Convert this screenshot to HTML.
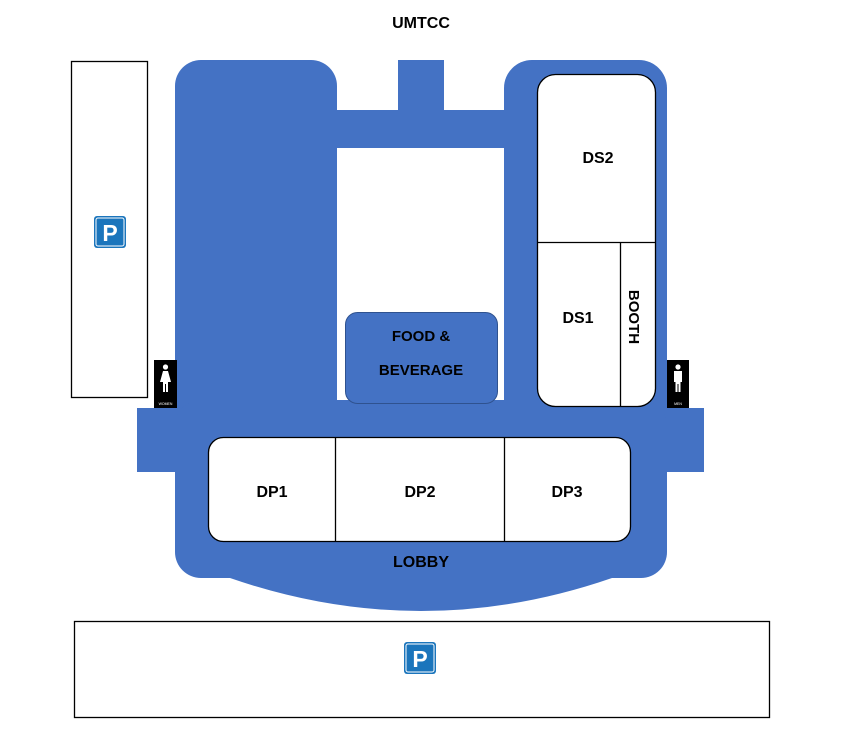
<!DOCTYPE html>
<html><head><meta charset="utf-8"><style>
html,body{margin:0;padding:0;background:#fff;}
svg{display:block;}
text{font-family:"Liberation Sans",sans-serif;font-weight:bold;fill:#000;}
</style></head><body>
<svg width="850" height="752" viewBox="0 0 850 752" xmlns="http://www.w3.org/2000/svg">
<text x="421" y="28" font-size="16" text-anchor="middle">UMTCC</text>
<rect x="71.5" y="61.5" width="76" height="336" fill="#fff" stroke="#000" stroke-width="1.3"/>
<rect x="74.5" y="621.5" width="695" height="96" fill="#fff" stroke="#000" stroke-width="1.3"/>
<g fill="#1b75bc">
<rect x="94" y="216" width="32" height="32" rx="3"/>
<rect x="404" y="642" width="32" height="32" rx="3"/>
</g>
<g fill="none" stroke="#fff" stroke-width="1"><rect x="96" y="218" width="28" height="28" rx="2"/><rect x="406" y="644" width="28" height="28" rx="2"/></g>
<text x="110" y="241" font-size="23" text-anchor="middle" style="fill:#fff">P</text>
<text x="420" y="667" font-size="23" text-anchor="middle" style="fill:#fff">P</text>
<g fill="#4472c4">
<rect x="175" y="60" width="162" height="440" rx="26"/>
<rect x="504" y="60" width="163" height="440" rx="28"/>
<rect x="330" y="110" width="180" height="38"/>
<rect x="398" y="60" width="46" height="60"/>
<rect x="137" y="408" width="567" height="64"/>
<rect x="175" y="400" width="492" height="178" rx="26"/>
<path d="M230 570 L612 570 L612 578 Q421 644 230 578 Z"/>
</g>
<rect x="345.5" y="312.5" width="152" height="91" rx="12" fill="#4472c4" stroke="#2f528f" stroke-width="1"/>
<text x="421" y="341" font-size="15" text-anchor="middle">FOOD &amp;</text>
<text x="421" y="375" font-size="15" text-anchor="middle">BEVERAGE</text>
<rect x="537.5" y="74.5" width="118" height="332" rx="18" fill="#fff" stroke="#000" stroke-width="1.3"/>
<line x1="538" y1="242.5" x2="655" y2="242.5" stroke="#000" stroke-width="1.3"/>
<line x1="620.5" y1="242" x2="620.5" y2="406" stroke="#000" stroke-width="1.3"/>
<text x="598" y="163" font-size="16" text-anchor="middle">DS2</text>
<text x="578" y="323" font-size="16" text-anchor="middle">DS1</text>
<text font-size="15" text-anchor="middle" transform="translate(629,317) rotate(90)">BOOTH</text>
<rect x="208.5" y="437.5" width="422" height="104" rx="15" fill="#fff" stroke="#000" stroke-width="1.3"/>
<line x1="335.5" y1="438" x2="335.5" y2="541" stroke="#000" stroke-width="1.3"/>
<line x1="504.5" y1="438" x2="504.5" y2="541" stroke="#000" stroke-width="1.3"/>
<text x="272" y="497" font-size="16" text-anchor="middle">DP1</text>
<text x="420" y="497" font-size="16" text-anchor="middle">DP2</text>
<text x="567" y="497" font-size="16" text-anchor="middle">DP3</text>
<text x="421" y="567" font-size="16" text-anchor="middle">LOBBY</text>
<g>
<rect x="154" y="360" width="23" height="48" fill="#000"/>
<circle cx="165.5" cy="367" r="2.6" fill="#fff"/>
<path d="M163 371 h5 l3 11 h-3 v10 h-2 v-8 h-1 v8 h-2 v-10 h-3 z" fill="#fff"/>
<text x="165.5" y="405" font-size="3.5" text-anchor="middle" style="fill:#fff;font-weight:normal">WOMEN</text>
<rect x="667" y="360" width="22" height="48" fill="#000"/>
<circle cx="678" cy="367" r="2.6" fill="#fff"/>
<path d="M674 371 h8 v11 h-1.5 v10 h-2 v-8 h-1 v8 h-2 v-10 h-1.5 z" fill="#fff"/>
<text x="678" y="405" font-size="3.5" text-anchor="middle" style="fill:#fff;font-weight:normal">MEN</text>
</g>
</svg>
</body></html>
